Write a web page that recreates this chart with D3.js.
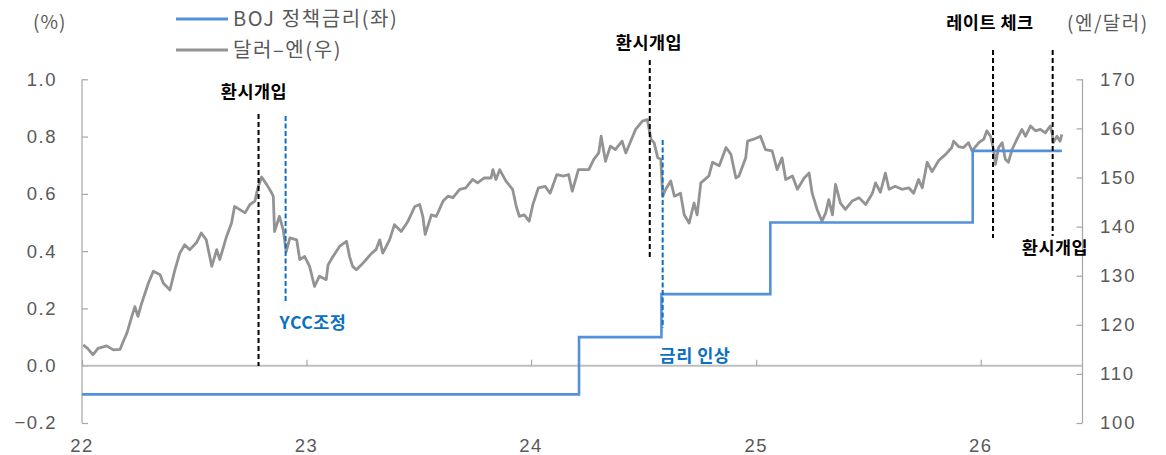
<!DOCTYPE html>
<html><head><meta charset="utf-8">
<script src="https://cdn.jsdelivr.net/npm/d3@7"></script>
<style>
html,body{margin:0;padding:0;background:#fff;}
svg{display:block;}
</style></head>
<body>
<svg id="chart" width="1166" height="455"></svg>
<script>
// ---------------- DATA ----------------
const fxDates = ["2022-01-03","2022-01-10","2022-01-19","2022-01-27","2022-02-10","2022-02-21","2022-03-04","2022-03-09","2022-03-15","2022-03-23","2022-03-28","2022-04-02","2022-04-08","2022-04-19","2022-04-27","2022-05-08","2022-05-13","2022-05-24","2022-06-01","2022-06-09","2022-06-17","2022-06-25","2022-07-06","2022-07-14","2022-07-22","2022-07-31","2022-08-08","2022-08-13","2022-08-24","2022-09-01","2022-09-06","2022-09-14","2022-09-23","2022-10-01","2022-10-09","2022-10-14","2022-10-20","2022-10-28","2022-11-02","2022-11-08","2022-11-10","2022-11-18","2022-11-24","2022-11-29","2022-12-05","2022-12-16","2022-12-21","2022-12-29","2023-01-06","2023-01-14","2023-01-22","2023-02-02","2023-02-05","2023-02-13","2023-02-24","2023-03-07","2023-03-12","2023-03-17","2023-03-23","2023-04-03","2023-04-08","2023-04-17","2023-04-24","2023-04-30","2023-05-05","2023-05-16","2023-05-24","2023-06-04","2023-06-15","2023-06-26","2023-07-04","2023-07-09","2023-07-13","2023-07-23","2023-07-31","2023-08-11","2023-08-19","2023-08-27","2023-09-07","2023-09-17","2023-09-28","2023-10-06","2023-10-17","2023-10-28","2023-10-31","2023-11-05","2023-11-11","2023-11-21","2023-12-02","2023-12-08","2023-12-13","2023-12-21","2023-12-29","2024-01-04","2024-01-13","2024-01-24","2024-02-01","2024-02-12","2024-02-23","2024-03-02","2024-03-08","2024-03-18","2024-04-04","2024-04-12","2024-04-20","2024-04-24","2024-05-01","2024-05-09","2024-05-17","2024-05-28","2024-06-03","2024-06-11","2024-06-19","2024-06-30","2024-07-08","2024-07-14","2024-07-19","2024-07-25","2024-07-30","2024-08-02","2024-08-07","2024-08-15","2024-08-21","2024-08-31","2024-09-06","2024-09-14","2024-09-22","2024-09-27","2024-10-03","2024-10-16","2024-10-22","2024-11-02","2024-11-13","2024-11-21","2024-11-29","2024-12-04","2024-12-15","2024-12-18","2024-12-28","2025-01-08","2025-01-16","2025-01-27","2025-02-04","2025-02-12","2025-02-18","2025-03-01","2025-03-09","2025-03-20","2025-03-28","2025-04-02","2025-04-10","2025-04-18","2025-04-24","2025-04-29","2025-05-05","2025-05-10","2025-05-18","2025-05-26","2025-06-06","2025-06-17","2025-06-28","2025-07-09","2025-07-14","2025-07-22","2025-07-30","2025-08-05","2025-08-15","2025-08-26","2025-09-06","2025-09-14","2025-09-22","2025-09-28","2025-10-06","2025-10-14","2025-10-25","2025-11-05","2025-11-15","2025-11-18","2025-11-26","2025-12-04","2025-12-12","2025-12-18","2025-12-29","2026-01-06","2026-01-11","2026-01-17","2026-01-22","2026-01-25","2026-01-30","2026-02-05","2026-02-10","2026-02-15","2026-02-21","2026-03-01","2026-03-09","2026-03-15","2026-03-23","2026-03-31","2026-04-08","2026-04-16","2026-04-24","2026-04-27","2026-04-29","2026-05-05","2026-05-10","2026-05-13"];
const fxValues = [115.9,115.2,113.9,115.2,115.7,114.9,115.0,116.6,118.3,121.7,123.7,121.7,124.4,128.5,130.9,130.2,128.5,127.1,131.2,134.6,136.3,135.3,136.7,138.7,137.3,131.9,135.3,133.3,138.0,140.7,144.1,143.5,142.8,144.5,145.2,147.9,150.1,148.6,147.6,146.2,139.0,142.1,139.4,134.9,137.7,137.3,133.3,133.9,131.9,127.8,129.9,129.2,132.2,133.9,136.0,137.0,133.9,131.9,131.2,132.6,133.3,134.6,135.3,137.3,134.6,137.3,140.4,139.0,141.1,144.1,144.5,142.1,138.4,142.4,142.1,145.2,146.2,145.9,147.6,147.9,149.6,148.9,149.9,149.9,151.6,149.6,151.6,149.3,147.6,144.1,142.1,142.4,141.1,144.5,147.9,148.2,146.8,150.6,150.3,150.6,147.2,151.6,151.6,153.7,155.0,158.4,153.3,156.4,155.7,157.4,155.0,157.4,159.8,161.5,161.8,157.8,157.1,154.0,153.7,146.2,147.6,149.3,146.2,146.8,142.4,140.7,144.8,142.4,148.9,150.3,153.1,152.4,156.1,154.7,149.9,150.3,154.0,157.4,157.8,158.4,155.7,155.4,151.6,154.0,149.6,150.3,147.6,149.9,150.9,146.8,143.5,141.1,142.8,145.5,142.4,148.6,144.8,143.5,145.2,145.9,144.5,146.8,148.9,147.0,150.9,147.6,148.2,147.6,147.9,146.8,149.6,147.9,153.1,151.2,153.5,154.7,156.1,157.4,156.3,156.1,157.1,155.4,157.1,157.8,159.5,158.4,155.7,152.7,156.1,157.1,153.7,153.1,155.7,157.8,159.8,158.4,160.5,159.5,159.8,159.1,160.5,159.1,157.1,158.4,157.4,158.8];

const bojDates = ["2022-01-01","2024-03-19","2024-07-31","2025-01-24","2025-12-19","2026-05-13"];
const bojRates = [-0.1, 0.1, 0.25, 0.5, 0.75, 0.75];

const leftTicks  = [-0.2, 0.0, 0.2, 0.4, 0.6, 0.8, 1.0];
const rightTicks = [100, 110, 120, 130, 140, 150, 160, 170];
const xTickDates  = ["2022-01-01","2023-01-01","2024-01-01","2025-01-01","2026-01-01"];
const xTickLabels = ["22","23","24","25","26"];

const eventDates  = ["2022-10-15","2022-11-28","2024-07-12","2024-08-02","2026-01-21","2026-04-28"];
const eventLabels = ["환시개입","YCC조정","환시개입","금리 인상","레이트 체크","환시개입"];
const eventKinds  = ["fx","boj","fx","boj","fx","fx"];

const legendLabels = ["BOJ 정책금리(좌)","달러–엔(우)"];

// ---------------- LAYOUT ----------------
const W = 1166, H = 455;
const L = 82, R = 1082.5, T = 79.3, B = 423;
const parse = d3.timeParse("%Y-%m-%d");
const BLUE = "#5590dc", GRAY = "#939393", TXT = "#595959", AX = "#a6a6a6", ANN_BLUE = "#0a70c2";
const NUMFONT = "'Liberation Sans', Arial, sans-serif";
const KRFONT = "'Noto Sans CJK KR', 'Noto Sans', sans-serif";

const svg = d3.select("#chart");
svg.append("rect").attr("width", W).attr("height", H).attr("fill", "#fff");

const x = d3.scaleTime().domain([parse("2022-01-01"), parse("2026-01-01")]).range([L, 980.7]);
const yL = d3.scaleLinear().domain([-0.2, 1.0]).range([B, T]);
const yR = d3.scaleLinear().domain([100, 170]).range([B, T]);

// axes
const gL = svg.append("g").attr("transform", `translate(${L},0)`)
  .call(d3.axisRight(yL).tickValues(leftTicks).tickSize(6).tickFormat(() => ""));
const gR = svg.append("g").attr("transform", `translate(${R},0)`)
  .call(d3.axisLeft(yR).tickValues(rightTicks).tickSize(6).tickFormat(() => ""));
[gL, gR].forEach(g => {
  g.select(".domain").attr("stroke", AX).attr("stroke-width", 1.2).attr("d", `M0,${T}V${B}`);
  g.selectAll(".tick line").attr("stroke", AX).attr("stroke-width", 1.2);
});
svg.append("g").selectAll("text").data(leftTicks).join("text")
  .attr("x", 57).attr("y", d => yL(d)).attr("dy", "0.35em")
  .attr("text-anchor", "end").attr("fill", TXT)
  .style("font-family", NUMFONT).style("font-size", "18.5px").style("letter-spacing", "1.5px")
  .text(d => (d < 0 ? "−" : "") + Math.abs(d).toFixed(1));
svg.append("g").selectAll("text").data(rightTicks).join("text")
  .attr("x", 1100).attr("y", d => yR(d)).attr("dy", "0.35em")
  .attr("text-anchor", "start").attr("fill", TXT)
  .style("font-family", NUMFONT).style("font-size", "18.5px").style("letter-spacing", "1.8px")
  .text(d => d);

// x axis at zero
const gX = svg.append("g").attr("transform", `translate(0,${yL(0)})`)
  .call(d3.axisTop(x).tickValues(xTickDates.map(parse)).tickSize(6).tickFormat(() => ""));
gX.select(".domain").attr("stroke", "#bfbfbf").attr("stroke-width", 2).attr("d", `M${L},0H${R}`);
gX.selectAll(".tick line").attr("stroke", AX).attr("stroke-width", 1.2);
svg.append("g").selectAll("text").data(xTickDates).join("text")
  .attr("x", d => x(parse(d))).attr("y", 446).attr("dy", "0.35em")
  .attr("text-anchor", "middle").attr("fill", TXT)
  .style("font-family", NUMFONT).style("font-size", "18.5px").style("letter-spacing", "1.5px")
  .text((d, i) => xTickLabels[i]);

// USD/JPY line
const fx = fxDates.map((d, i) => ({ d: parse(d), v: fxValues[i] }));
svg.append("path").datum(fx)
  .attr("fill", "none").attr("stroke", GRAY).attr("stroke-width", 2.8).attr("stroke-linejoin", "round")
  .attr("d", d3.line().x(p => x(p.d)).y(p => yR(p.v)).curve(d3.curveLinear));

// BOJ step line
const boj = bojDates.map((d, i) => ({ d: parse(d), v: bojRates[i] }));
svg.append("path").datum(boj)
  .attr("fill", "none").attr("stroke", BLUE).attr("stroke-width", 2.6)
  .attr("d", d3.line().x(p => x(p.d)).y(p => yL(p.v)).curve(d3.curveStepAfter));

// event annotations: dashed line extent and label position
const evLayout = [
  { y1: 114, y2: 366, lx: 254, ly: 92 },
  { y1: 116, y2: 303, lx: 313, ly: 323 },
  { y1: 60,  y2: 260, lx: 649, ly: 43 },
  { y1: 140, y2: 328, lx: 695, ly: 356 },
  { y1: 50,  y2: 238, lx: 990, ly: 23 },
  { y1: 50,  y2: 236, lx: 1055, ly: 248 }
];
eventDates.forEach((d, i) => {
  const xe = x(parse(d)), lay = evLayout[i];
  const isBoj = eventKinds[i] === "boj";
  svg.append("line")
    .attr("x1", xe).attr("x2", xe).attr("y1", lay.y1).attr("y2", lay.y2)
    .attr("stroke", isBoj ? ANN_BLUE : "#000").attr("stroke-width", 2)
    .attr("stroke-dasharray", isBoj ? "5,2.5" : "5,3");
  svg.append("text")
    .attr("x", lay.lx).attr("y", lay.ly).attr("dy", "0.35em").attr("text-anchor", "middle")
    .attr("fill", isBoj ? ANN_BLUE : "#000")
    .style("font-family", KRFONT).style("font-size", "17.5px").style("font-weight", "700")
    .style("letter-spacing", "0.5px")
    .text(eventLabels[i]);
});

// unit labels
svg.append("text").attr("x", 33).attr("y", 22).attr("dy", "0.35em").attr("fill", TXT)
  .style("font-family", KRFONT).style("font-size", "19px").style("letter-spacing", "1px").text("(%)");
svg.append("text").attr("x", 1067).attr("y", 23).attr("dy", "0.35em").attr("fill", TXT)
  .style("font-family", KRFONT).style("font-size", "19px").style("letter-spacing", "1.5px").text("(엔/달러)");

// legend
const legY = [19, 50], legColors = [BLUE, GRAY];
legendLabels.forEach((t, i) => {
  svg.append("line").attr("x1", 176).attr("x2", 228).attr("y1", legY[i]).attr("y2", legY[i])
    .attr("stroke", legColors[i]).attr("stroke-width", 2.8);
  svg.append("text").attr("x", 233).attr("y", legY[i]).attr("dy", "0.35em").attr("fill", TXT)
    .style("font-family", KRFONT).style("font-size", "20px").style("letter-spacing", "1.6px")
    .text(t);
});
</script>
</body></html>
